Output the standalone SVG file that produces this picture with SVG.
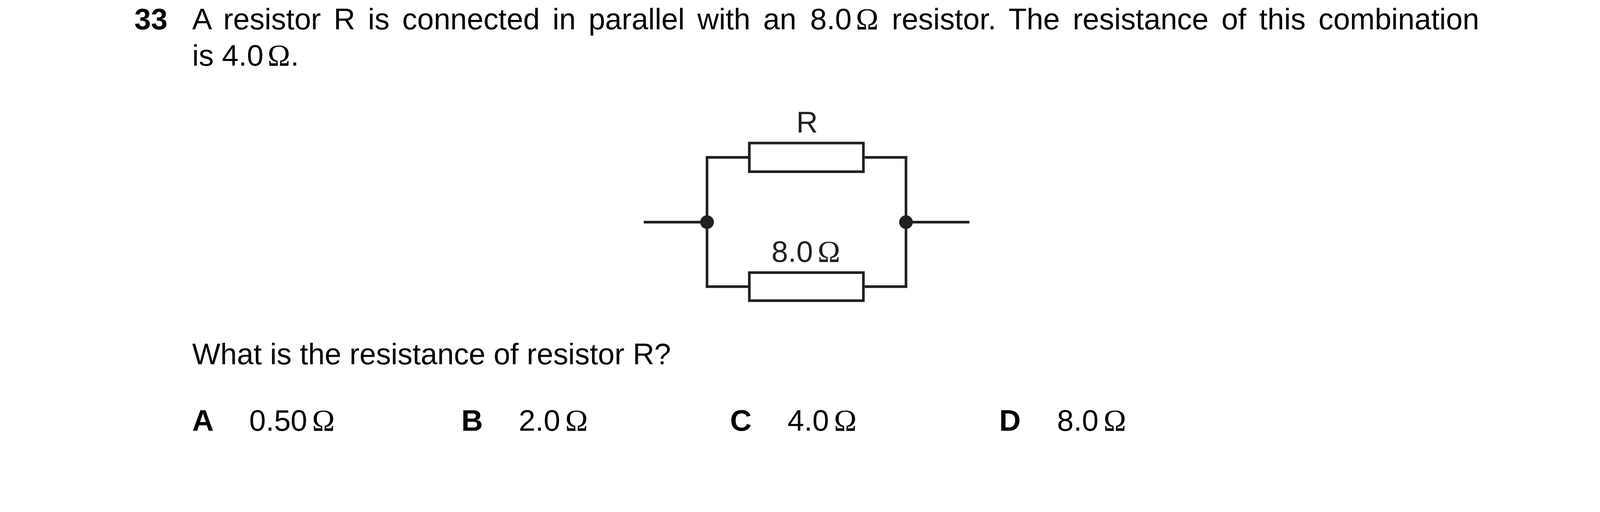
<svg xmlns="http://www.w3.org/2000/svg" width="4132" height="1310" viewBox="0 0 4132 1310">
<style>
text{font-family:"Liberation Sans",Arial,sans-serif;font-size:76.300px;fill:#000}
.b{font-weight:700}
.o{font-family:"Liberation Serif","Times New Roman",serif;font-size:78px}
.c{fill:#231f20}
.w{fill:none;stroke:#231f20;stroke-width:6.700}
.r{fill:#fff;stroke:#231f20;stroke-width:6.700}
</style>
<rect width="4132" height="1310" fill="#fff"/>
<g id="question">
<text class="b" x="344" y="75">33</text>
<text x="492" y="75" word-spacing="11.500">A resistor R is connected in parallel with an</text>
<text x="2074" y="75">8.0<tspan class="o" x="2191">Ω</tspan></text>
<text x="2283" y="75" word-spacing="11.800">resistor. The resistance of this combination</text>
<text x="492" y="168">is 4.0<tspan class="o" x="685">Ω</tspan><tspan x="744">.</tspan></text>
<text x="492" y="932">What is the resistance of resistor R?</text>
</g>
<g id="connectors">
<path class="w" d="M1915 402.700H1810V733.300H1915M2213.700 402.700H2319.300V733.300H2213.700M1648 568.300H1810M2319.300 568.300H2481.700"/>
</g>
<g id="resistor-r">
<rect class="r" x="1918.300" y="366" width="292" height="73.300"/>
<text class="c" x="2066" y="339" text-anchor="middle">R</text>
</g>
<g id="resistor-8">
<rect class="r" x="1918.300" y="697.500" width="292" height="71.800"/>
<text class="c" x="1975" y="670">8.0<tspan class="o" x="2093">Ω</tspan></text>
</g>
<g id="junction-left"><circle cx="1810" cy="568.300" r="17.500" fill="#231f20"/></g>
<g id="junction-right"><circle cx="2319.300" cy="568.300" r="17.500" fill="#231f20"/></g>
<g id="options">
<text class="b" x="492" y="1101.500">A</text>
<text x="638" y="1101.500">0.50<tspan class="o" x="799">Ω</tspan></text>
<text class="b" x="1181" y="1101.500">B</text>
<text x="1328" y="1101.500">2.0<tspan class="o" x="1447">Ω</tspan></text>
<text class="b" x="1869" y="1101.500">C</text>
<text x="2016" y="1101.500">4.0<tspan class="o" x="2135">Ω</tspan></text>
<text class="b" x="2558" y="1101.500">D</text>
<text x="2706" y="1101.500">8.0<tspan class="o" x="2825">Ω</tspan></text>
</g>
</svg>
